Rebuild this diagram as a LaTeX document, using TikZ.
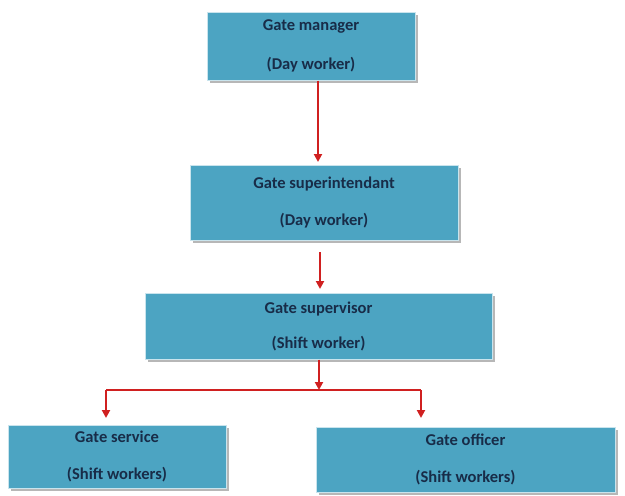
\documentclass[tikz,border=0pt]{standalone}
\usepackage{fontspec}
\setmainfont{Carlito}
\usetikzlibrary{shadows,arrows.meta}
\definecolor{boxfill}{RGB}{76,164,194}
\definecolor{boxtext}{RGB}{24,44,72}
\definecolor{arrowred}{RGB}{208,32,32}
\begin{document}
\begin{tikzpicture}[x=1pt,y=-1pt,
  box/.style={draw=white!70!boxfill, line width=1pt, fill=boxfill, inner sep=0pt,
    font=\bfseries\fontsize{16.5}{19}\selectfont, text=boxtext, align=center,
    drop shadow={shadow xshift=2.5pt, shadow yshift=-2.5pt, fill=black!40, opacity=0.7}},
  conn/.style={draw=arrowred, line width=2pt},
  arr/.style={conn, -{Triangle[length=8pt,width=8pt]}}]
\useasboundingbox (0,0) rectangle (625,496);
\node[box, minimum width=208pt, minimum height=68pt] (m) at (311,46) {Gate manager\\[20pt](Day worker)};
\node[box, minimum width=268pt, minimum height=75pt] (s) at (324,202.5) {Gate superintendant\\[18pt](Day worker)};
\node[box, minimum width=347pt, minimum height=66pt] (v) at (318.5,326) {Gate supervisor\\[16pt](Shift worker)};
\node[box, minimum width=218pt, minimum height=63pt] (g) at (117,456.5) {Gate service\\[18pt](Shift workers)};
\node[box, minimum width=299pt, minimum height=65pt] (o) at (465.5,459.5) {Gate officer\\[18pt](Shift workers)};
\coordinate (s1) at (320,252);
\coordinate (s2) at (320,289);
\coordinate (j) at (319,390);
\coordinate (jl) at (106,390);
\coordinate (jr) at (421,390);
\coordinate (gl) at (106,418);
\coordinate (or) at (421,418);
\draw[arr] (m.south -| 318,0) -- (318,162);
\draw[arr] (s1) -- (s2);
\draw[arr] (v.south -| j) -- (j);
\draw[conn] (jl) -- (jr);
\draw[arr] (jl) -- (gl);
\draw[arr] (jr) -- (or);
\end{tikzpicture}
\end{document}
